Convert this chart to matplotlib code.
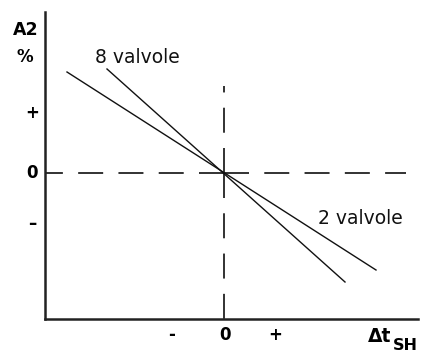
import matplotlib
matplotlib.use("Agg")
import matplotlib.pyplot as plt

plt.rcParams["lines.scale_dashes"] = False

# Two straight characteristics crossing at the origin
x_2v = [-1.57, 1.52]
y_2v = [1.01, -0.97]
x_8v = [-1.17, 1.21]
y_8v = [1.04, -1.09]

series_labels = ["2 valvole", "8 valvole"]
y_tick_labels = ["+", "0", "–"]
x_tick_labels = ["-", "0", "+"]

W, H = 422, 356
fig = plt.figure(figsize=(W / 100, H / 100), dpi=100)
ax = fig.add_axes([45 / W, (H - 319) / H, (418 - 45) / W, (319 - 12) / H])
ax.set_xlim(-1.79, 1.94)
ax.set_ylim(-1.46, 1.61)

for s in ["top", "right"]:
    ax.spines[s].set_visible(False)
for s in ["left", "bottom"]:
    ax.spines[s].set_linewidth(1.8)
    ax.spines[s].set_color("#222222")
ax.set_xticks([])
ax.set_yticks([])

dash = (0, (18, 11))
dkw = dict(color="#222222", lw=1.3, dash_capstyle="butt")
# dashed reference axes drawn outward from the origin
ax.plot([0, 1.82], [0, 0], linestyle=dash, **dkw)
ax.plot([0, -1.79], [0, 0], linestyle=dash, **dkw)
ax.plot([0, 0], [0, -1.46], linestyle=dash, **dkw)
ax.plot([0, 0], [0, 0.87], linestyle=dash, **dkw)

ax.plot(x_2v, y_2v, color="#111111", lw=1.0)
ax.plot(x_8v, y_8v, color="#111111", lw=1.0)

ax.text(1.36, -0.45, series_labels[0], fontsize=13.5, ha="center", va="center", color="#111111")
ax.text(-0.87, 1.16, series_labels[1], fontsize=13.5, ha="center", va="center", color="#111111")

fig.text(26 / W, 1 - 30 / H, "A2", fontsize=12.5, fontweight="bold", ha="center", va="center")
fig.text(25 / W, 1 - 57 / H, "%", fontsize=12, fontweight="bold", ha="center", va="center")

for lab, yp in zip(y_tick_labels, [113, 173, 224]):
    fig.text(32 / W, 1 - yp / H, lab, fontsize=12, fontweight="bold", ha="center", va="center")
for lab, xp in zip(x_tick_labels, [172, 225, 275]):
    fig.text(xp / W, 1 - 335 / H, lab, fontsize=12, fontweight="bold", ha="center", va="center")

fig.text(391 / W, 1 - 337 / H, "Δt", fontsize=13.5, fontweight="bold", ha="right", va="center")
fig.text(393 / W, 1 - 346 / H, "SH", fontsize=11.5, fontweight="bold", ha="left", va="center")

fig.savefig("out.png", dpi=100)
